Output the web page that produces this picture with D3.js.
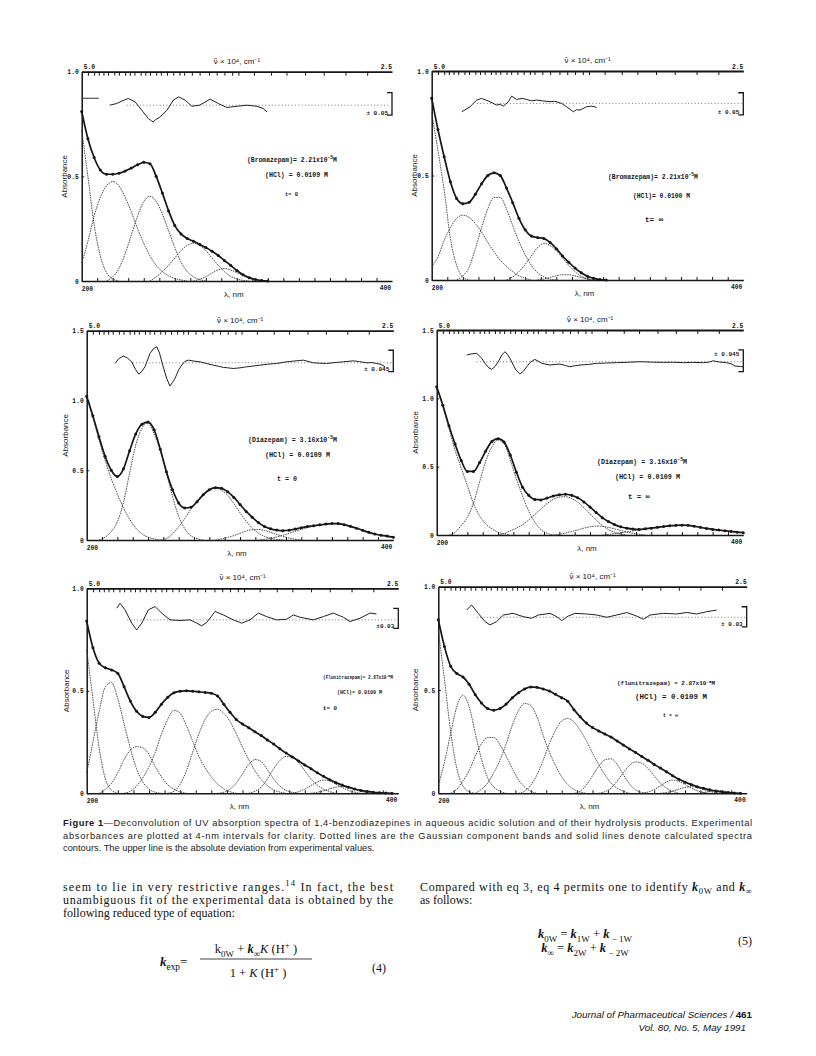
<!DOCTYPE html>
<html><head><meta charset="utf-8">
<script src="https://cdn.jsdelivr.net/npm/d3@7"></script>
<style>body{margin:0;background:#fff}</style>
</head><body>
<svg id="page" width="816" height="1056" xmlns="http://www.w3.org/2000/svg"></svg>
<script>
// ================= DATA =================
const bottomTicks = [210,220,230,240,250,260,270,280,290,300,310,320,330,340,350,360,370,380,390];
const topTicks = [204,208,211,214,217,221,224,228,231,234,238,241,244,248,251,255,259,263,266,271,276,282,287,292,297,301,311,322,332,344,356,370,384];
const topTickLabels = ["5.0","2.5"];
const bottomTickLabels = ["200","400"];
const yTicks10 = [0,0.5,1.0];
const yTicks15 = [0,0.5,1.0,1.5];
const expStart = 200, expStep = 4;

// Panel 1: Bromazepam, t = 0
const bro0Exp = [0.81,0.68,0.59,0.53,0.51,0.51,0.515,0.525,0.54,0.555,0.567,0.56,0.50,0.42,0.335,0.265,0.225,0.203,0.19,0.175,0.16,0.142,0.122,0.098,0.075,0.05,0.03,0.016,0.007,0.002,0];
const bro0B1 = [[200,0.72],[204,0.50],[208,0.27],[212,0.12],[216,0.04],[220,0.01],[224,0]];
const bro0B2 = [[200,0.085],[204,0.19],[208,0.31],[212,0.40],[216,0.455],[220,0.475],[224,0.455],[228,0.40],[232,0.33],[236,0.25],[240,0.18],[244,0.12],[248,0.075],[252,0.045],[256,0.025],[260,0.012],[264,0.005],[268,0]];
const bro0B3 = [[216,0],[220,0.02],[224,0.06],[228,0.13],[232,0.22],[236,0.31],[240,0.38],[244,0.405],[248,0.38],[252,0.32],[256,0.24],[260,0.16],[264,0.09],[268,0.045],[272,0.02],[276,0.007],[280,0]];
const bro0B4 = [[244,0],[248,0.02],[252,0.045],[256,0.075],[260,0.11],[264,0.145],[268,0.17],[272,0.18],[276,0.17],[280,0.145],[284,0.11],[288,0.075],[292,0.045],[296,0.022],[300,0.01],[304,0.003],[308,0]];
const bro0B5 = [[272,0],[276,0.008],[280,0.02],[284,0.038],[288,0.053],[292,0.06],[296,0.053],[300,0.04],[304,0.025],[308,0.013],[312,0.005],[316,0]];
const bro0Dev = [[218,0],[222.6,0.008],[226,0.02],[230,0.032],[234.4,0.016],[238.7,-0.024],[243,-0.064],[245,-0.075],[246,-0.08],[247.5,-0.07],[250.5,-0.056],[255,-0.024],[259,0.024],[262.4,0.04],[266.7,0.024],[271,-0.005],[276,0],[282.8,0.029],[288,0.008],[293.5,-0.011],[300,-0.005],[306.5,0],[313,-0.005],[317,-0.016],[319.4,-0.032]];

// Panel 2: Bromazepam, t = infinity
const broInfExp = [0.87,0.72,0.59,0.47,0.39,0.365,0.372,0.41,0.46,0.50,0.513,0.50,0.44,0.37,0.295,0.24,0.21,0.203,0.198,0.18,0.15,0.115,0.085,0.057,0.035,0.018,0.008,0.002,0];
const broInfB1 = [[200,0.80],[204,0.62],[208,0.43],[212,0.20],[216,0.07],[220,0.015],[224,0]];
const broInfB2 = [[200,0.064],[204,0.11],[208,0.19],[212,0.25],[216,0.295],[220,0.31],[224,0.30],[228,0.27],[232,0.23],[236,0.18],[240,0.135],[244,0.095],[248,0.065],[252,0.04],[256,0.02],[260,0.008],[264,0]];
const broInfB3 = [[216,0],[220,0.02],[224,0.06],[228,0.15],[232,0.25],[236,0.34],[240,0.395],[244,0.395],[248,0.34],[252,0.26],[256,0.185],[260,0.12],[264,0.07],[268,0.035],[272,0.015],[276,0.004],[280,0]];
const broInfB4 = [[248,0],[252,0.015],[256,0.04],[260,0.075],[264,0.115],[268,0.155],[272,0.175],[276,0.165],[280,0.14],[284,0.105],[288,0.07],[292,0.04],[296,0.018],[300,0.006],[304,0]];
const broInfB5 = [[268,0],[272,0.005],[276,0.012],[280,0.02],[284,0.025],[288,0.025],[292,0.02],[296,0.012],[300,0.005],[304,0]];
const broInfDev = [[219.3,-0.04],[222,-0.028],[224.6,-0.016],[228.9,0.016],[232,0.024],[237.4,0.008],[241.7,-0.008],[244,-0.004],[246,-0.013],[249.2,0.008],[251.3,0.035],[254.5,0.019],[258,0.024],[261,0.019],[264,0.012],[267.4,0.016],[271,0.012],[275.9,0.008],[279,0.01],[283.4,0],[286.6,-0.016],[290.9,-0.04],[293,-0.03],[295.2,-0.032],[299.5,-0.016],[302.7,-0.013],[305.9,-0.019]];

// Panel 3: Diazepam, t = 0
const dia0Exp = [1.03,0.89,0.74,0.60,0.50,0.455,0.51,0.64,0.76,0.83,0.845,0.79,0.65,0.49,0.36,0.265,0.23,0.235,0.275,0.325,0.36,0.375,0.37,0.345,0.305,0.255,0.205,0.163,0.125,0.097,0.08,0.071,0.067,0.07,0.078,0.088,0.096,0.102,0.109,0.114,0.118,0.118,0.11,0.098,0.084,0.069,0.055,0.043,0.034,0.028,0.02];
const dia0B1 = [[200,1.02],[204,0.88],[208,0.72],[212,0.57],[216,0.44],[220,0.33],[224,0.23],[228,0.15],[232,0.085],[236,0.045],[240,0.02],[244,0.008],[248,0]];
const dia0B2 = [[208,0],[212,0.02],[216,0.06],[220,0.13],[224,0.27],[228,0.48],[232,0.68],[236,0.80],[240,0.84],[244,0.76],[248,0.64],[252,0.48],[256,0.31],[260,0.17],[264,0.08],[268,0.03],[272,0.01],[276,0]];
const dia0B3 = [[248,0],[252,0.01],[256,0.045],[260,0.095],[264,0.155],[268,0.22],[272,0.275],[276,0.32],[280,0.355],[284,0.372],[288,0.355],[292,0.32],[296,0.26],[300,0.195],[304,0.135],[308,0.085],[312,0.05],[316,0.026],[320,0.012],[324,0.004],[328,0]];
const dia0B4 = [[284,0],[288,0.008],[292,0.018],[296,0.032],[300,0.048],[304,0.064],[308,0.074],[312,0.075],[316,0.068],[320,0.055],[324,0.04],[328,0.026],[332,0.014],[336,0.006],[340,0]];
const dia0B5 = [[312,0],[316,0.005],[320,0.012],[324,0.022],[328,0.034],[332,0.048],[336,0.062],[340,0.076],[344,0.088],[348,0.099],[352,0.107],[356,0.113],[360,0.116],[364,0.116],[368,0.11],[372,0.1],[376,0.086],[380,0.07],[384,0.056],[388,0.043],[392,0.033],[396,0.025],[400,0.019]];
const dia0Dev = [[218.5,-0.005],[221,0.03],[223.9,0.048],[226.5,0.035],[229.3,0.007],[232,-0.05],[234,-0.081],[236,-0.06],[238,-0.029],[241.3,0.067],[243.5,0.1],[245.7,0.115],[247.5,0.07],[249,0.007],[251,-0.07],[252.2,-0.112],[254.3,-0.167],[256,-0.14],[257.6,-0.112],[260,-0.05],[262,-0.017],[264,0.01],[266.3,0.019],[270,0.012],[273.9,0.007],[278,-0.005],[282.6,-0.017],[286,-0.025],[289.1,-0.033],[292,-0.036],[295.6,-0.041],[300,-0.036],[304.3,-0.029],[308,-0.024],[313,-0.017],[318,-0.01],[323.9,-0.005],[329,0.005],[334.8,0.012],[341.3,0.019],[347.8,0],[352,-0.003],[356.5,-0.005],[362,0.002],[367.4,0.007],[373.9,0.014],[378,0.008],[382.6,0],[386,0.002],[389.1,-0.005],[392,-0.012],[394.6,-0.029]];

// Panel 4: Diazepam, t = infinity
const diaInfExp = [1.085,0.95,0.80,0.665,0.545,0.465,0.465,0.53,0.615,0.685,0.705,0.68,0.585,0.46,0.35,0.29,0.26,0.257,0.27,0.285,0.294,0.298,0.29,0.272,0.242,0.205,0.165,0.127,0.098,0.076,0.06,0.05,0.043,0.041,0.045,0.05,0.056,0.062,0.067,0.071,0.072,0.071,0.064,0.056,0.048,0.041,0.036,0.031,0.026,0.021,0.017];
const diaInfB1 = [[200,1.08],[204,0.94],[208,0.78],[212,0.62],[216,0.49],[220,0.36],[224,0.23],[228,0.14],[232,0.08],[236,0.045],[240,0.02],[244,0.008],[248,0]];
const diaInfB2 = [[208,0],[212,0.02],[216,0.07],[220,0.13],[224,0.235],[228,0.39],[232,0.54],[236,0.645],[240,0.695],[244,0.665],[248,0.55],[252,0.41],[256,0.285],[260,0.175],[264,0.095],[268,0.04],[272,0.012],[276,0]];
const diaInfB3 = [[240,0],[244,0.01],[248,0.03],[252,0.05],[256,0.075],[260,0.11],[264,0.15],[268,0.19],[272,0.23],[276,0.26],[280,0.278],[284,0.28],[288,0.268],[292,0.24],[296,0.2],[300,0.155],[304,0.11],[308,0.07],[312,0.04],[316,0.02],[320,0.008],[324,0]];
const diaInfB4 = [[276,0],[280,0.005],[284,0.015],[288,0.025],[292,0.037],[296,0.05],[300,0.06],[304,0.065],[308,0.063],[312,0.056],[316,0.045],[320,0.033],[324,0.022],[328,0.012],[332,0.005],[336,0]];
const diaInfB5 = [[308,0],[312,0.004],[316,0.01],[320,0.016],[324,0.023],[328,0.03],[332,0.037],[336,0.044],[340,0.05],[344,0.056],[348,0.062],[352,0.066],[356,0.07],[360,0.071],[364,0.07],[368,0.064],[372,0.056],[376,0.048],[380,0.041],[384,0.035],[388,0.03],[392,0.025],[396,0.021],[400,0.017]];
const diaInfDev = [[219.6,0.049],[223,0.058],[226.1,0.061],[229,0.03],[231.5,-0.012],[234,-0.045],[235.9,-0.056],[238,-0.035],[240.2,0],[242.5,0.05],[244.6,0.073],[246,0.055],[247.8,0.024],[250,-0.025],[251.7,-0.061],[254.3,-0.09],[256.5,-0.07],[258.7,-0.037],[261,-0.005],[264,0.017],[266,0.005],[268.5,-0.012],[273.9,-0.024],[280.4,-0.017],[284,-0.028],[286.9,-0.037],[290,-0.03],[293.5,-0.024],[299,-0.02],[304.3,-0.012],[310,-0.01],[317.4,-0.007],[325,-0.004],[332.6,0],[340,-0.003],[347.8,-0.005],[354,-0.004],[360.9,-0.007],[367,-0.005],[373.9,-0.007],[378,-0.002],[380.4,0.007],[384,-0.002],[389.1,-0.007],[392,-0.015],[394.6,-0.032],[398,-0.035],[400,-0.037]];

// Panel 5: Flunitrazepam, t = 0
const flu0Exp = [0.84,0.71,0.635,0.612,0.602,0.585,0.52,0.45,0.40,0.375,0.37,0.395,0.435,0.468,0.49,0.498,0.5,0.498,0.495,0.492,0.488,0.475,0.435,0.395,0.36,0.338,0.32,0.30,0.282,0.26,0.24,0.217,0.196,0.177,0.158,0.138,0.12,0.10,0.083,0.066,0.052,0.04,0.03,0.021,0.014,0.009,0.005,0.003,0.001,0];
const flu0B1 = [[200,0.70],[204,0.46],[208,0.22],[212,0.07],[216,0.015],[220,0]];
const flu0B2 = [[200,0.10],[204,0.25],[208,0.40],[212,0.52],[216,0.54],[220,0.46],[224,0.34],[228,0.22],[232,0.12],[236,0.055],[240,0.02],[244,0.005],[248,0]];
const flu0B3 = [[208,0],[212,0.02],[216,0.05],[220,0.10],[224,0.165],[228,0.21],[232,0.228],[236,0.222],[240,0.19],[244,0.13],[248,0.08],[252,0.042],[256,0.02],[260,0.007],[264,0]];
const flu0B4 = [[224,0],[228,0.01],[232,0.035],[236,0.075],[240,0.13],[244,0.2],[248,0.29],[252,0.36],[256,0.405],[260,0.39],[264,0.33],[268,0.255],[272,0.18],[276,0.125],[280,0.08],[284,0.045],[288,0.022],[292,0.008],[296,0]];
const flu0B5 = [[252,0],[256,0.01],[260,0.045],[264,0.11],[268,0.2],[272,0.29],[276,0.36],[280,0.40],[284,0.41],[288,0.39],[292,0.35],[296,0.29],[300,0.225],[304,0.165],[308,0.11],[312,0.068],[316,0.037],[320,0.017],[324,0.006],[328,0]];
const flu0B6 = [[284,0],[288,0.005],[292,0.02],[296,0.05],[300,0.095],[304,0.14],[308,0.165],[312,0.155],[316,0.115],[320,0.07],[324,0.035],[328,0.014],[332,0.004],[336,0]];
const flu0B7 = [[304,0],[308,0.01],[312,0.03],[316,0.07],[320,0.12],[324,0.16],[328,0.18],[332,0.175],[336,0.15],[340,0.11],[344,0.07],[348,0.04],[352,0.02],[356,0.008],[360,0]];
const flu0B8 = [[332,0],[336,0.008],[340,0.02],[344,0.038],[348,0.055],[352,0.065],[356,0.06],[360,0.045],[364,0.028],[368,0.014],[372,0.005],[376,0]];
const flu0B9 = [[344,0],[348,0.005],[352,0.012],[356,0.022],[360,0.03],[364,0.033],[368,0.028],[372,0.018],[376,0.009],[380,0.003],[384,0]];
const flu0Dev = [[219.3,0.057],[221.4,0.081],[224.6,0.049],[228.9,-0.016],[232.1,-0.049],[235.3,-0.016],[239.6,0.049],[243.9,0.065],[248.1,0.033],[253.5,0],[259.9,-0.003],[266.3,0],[270.6,-0.016],[273.8,-0.029],[277,-0.013],[282.4,0.041],[287.7,0.024],[294.1,0],[299.5,-0.016],[304.8,0],[310.2,0.033],[315.5,0.016],[321.9,0],[328.3,0.003],[332.6,0.024],[336.9,0.013],[345.5,0],[351.9,0.016],[358.3,0.033],[364.7,0.013],[369,-0.008],[375.4,0.008],[381.8,0.033],[386,0.029]];

// Panel 6: Flunitrazepam, t = infinity
const fluInfExp = [0.84,0.71,0.615,0.58,0.563,0.528,0.477,0.437,0.41,0.402,0.41,0.432,0.462,0.487,0.505,0.515,0.513,0.505,0.495,0.479,0.463,0.445,0.405,0.37,0.34,0.318,0.302,0.287,0.272,0.253,0.234,0.215,0.197,0.178,0.16,0.14,0.122,0.104,0.085,0.068,0.054,0.042,0.032,0.024,0.017,0.011,0.007,0.004,0.001,0];
const fluInfB1 = [[200,0.79],[204,0.55],[208,0.30],[212,0.12],[216,0.035],[220,0.008],[224,0]];
const fluInfB2 = [[200,0.04],[204,0.15],[208,0.29],[212,0.42],[216,0.475],[220,0.42],[224,0.29],[228,0.165],[232,0.075],[236,0.03],[240,0.01],[244,0]];
const fluInfB3 = [[208,0],[212,0.02],[216,0.06],[220,0.11],[224,0.18],[228,0.24],[232,0.27],[236,0.27],[240,0.235],[244,0.18],[248,0.12],[252,0.065],[256,0.03],[260,0.01],[264,0]];
const fluInfB4 = [[224,0],[228,0.02],[232,0.05],[236,0.1],[240,0.16],[244,0.24],[248,0.33],[252,0.4],[256,0.435],[260,0.425],[264,0.37],[268,0.28],[272,0.2],[276,0.135],[280,0.08],[284,0.042],[288,0.018],[292,0.006],[296,0]];
const fluInfB5 = [[252,0],[256,0.01],[260,0.04],[264,0.09],[268,0.16],[272,0.24],[276,0.305],[280,0.35],[284,0.362],[288,0.345],[292,0.305],[296,0.255],[300,0.195],[304,0.14],[308,0.09],[312,0.05],[316,0.025],[320,0.01],[324,0]];
const fluInfB6 = [[288,0],[292,0.01],[296,0.04],[300,0.085],[304,0.13],[308,0.162],[312,0.167],[316,0.14],[320,0.09],[324,0.045],[328,0.017],[332,0.004],[336,0]];
const fluInfB7 = [[304,0],[308,0.008],[312,0.025],[316,0.06],[320,0.1],[324,0.135],[328,0.152],[332,0.145],[336,0.12],[340,0.085],[344,0.05],[348,0.025],[352,0.01],[356,0]];
const fluInfB8 = [[332,0],[336,0.006],[340,0.018],[344,0.035],[348,0.055],[352,0.064],[356,0.058],[360,0.042],[364,0.025],[368,0.012],[372,0.004],[376,0]];
const fluInfB9 = [[344,0],[348,0.004],[352,0.01],[356,0.02],[360,0.028],[364,0.032],[368,0.027],[372,0.018],[376,0.009],[380,0.003],[384,0]];
const fluInfB10 = [[368,0],[372,0.004],[376,0.01],[380,0.014],[384,0.012],[388,0.006],[392,0]];
const fluInfDev = [[218.4,0.035],[221.6,0.06],[225.9,0.019],[230.3,-0.021],[233.5,-0.037],[237.8,-0.021],[242.2,0.011],[248.6,0.019],[255.1,0.003],[260.5,-0.005],[264.9,0.011],[272.4,0.019],[276.8,0.003],[280,-0.016],[284.3,0.006],[288.6,0.019],[296.2,0.016],[302.7,0.011],[309.2,0],[315.7,0.011],[322.2,0.023],[328.6,0.006],[333,-0.01],[337.3,0.011],[346,0.019],[354.6,0.016],[361.1,0.023],[367.6,0.016],[374.1,0.027],[380.5,0.035]];

// ================= LAYOUT =================
const panels = [
  {frame:[81.7,392,71.7,281], yMax:1.0, yTicks:yTicks10, ylabDx:-15, exp:bro0Exp, bands:[bro0B1,bro0B2,bro0B3,bro0B4,bro0B5], dev:bro0Dev, devBase:0.84, devFrom:229, bracket:[0.793,0.90], brLabel:"\u00B1 0.05", brLabelAtTop:false, refDash:0.873,
   info:[{x:247,y:162,w:90,parts:[["(Bromazepam)= 2.21x10",""],["-5","sup"],["M",""]]},{x:265,y:177,w:63,parts:[["(HCl) = 0.0109 M",""]]},{x:285,y:196,w:13,parts:[["t= 0",""]]}]},
  {frame:[431.7,743.3,71,280], yMax:1.0, yTicks:yTicks10, ylabDx:-15, exp:broInfExp, bands:[broInfB1,broInfB2,broInfB3,broInfB4,broInfB5], dev:broInfDev, devBase:0.845, devFrom:229, bracket:[0.79,0.896], brLabel:"\u00B1 0.05", brLabelAtTop:false,
   info:[{x:608,y:179,w:90,parts:[["(Bromazepam)= 2.21x10",""],["-5","sup"],["M",""]]},{x:633,y:198,w:57,parts:[["(HCl)= 0.0100 M",""]]},{x:645,y:222,w:20,parts:[["t= \u221E",""]]}]},
  {frame:[86.7,393.3,330.7,540], yMax:1.5, yTicks:yTicks15, ylabDx:-19, exp:dia0Exp, bands:[dia0B1,dia0B2,dia0B3,dia0B4,dia0B5], dev:dia0Dev, devBase:1.27, devFrom:230, bracket:[1.206,1.36], brLabel:"\u00B1 0.045", brLabelAtTop:false,
   info:[{x:248,y:442,w:89,parts:[["(Diazepam) = 3.16x10",""],["-5","sup"],["M",""]]},{x:265,y:457,w:65,parts:[["(HCl) = 0.0109 M",""]]},{x:277,y:481,w:20,parts:[["t = 0",""]]}]},
  {frame:[436.7,743.3,330,535], yMax:1.5, yTicks:yTicks15, ylabDx:-19, exp:diaInfExp, bands:[diaInfB1,diaInfB2,diaInfB3,diaInfB4,diaInfB5], dev:diaInfDev, devBase:1.268, devFrom:226, bracket:[1.195,1.354], brLabel:"\u00B1 0.045", brLabelAtTop:true,
   info:[{x:597,y:464,w:90,parts:[["(Diazepam) = 3.16x10",""],["-5","sup"],["M",""]]},{x:615,y:479,w:65,parts:[["(HCl) = 0.0109 M",""]]},{x:628,y:499,w:22,parts:[["t = \u221E",""]]}]},
  {frame:[86.7,398.3,588.3,793.3], yMax:1.0, yTicks:yTicks10, ylabDx:-18, exp:flu0Exp, bands:[flu0B1,flu0B2,flu0B3,flu0B4,flu0B5,flu0B6,flu0B7,flu0B8,flu0B9], dev:flu0Dev, devBase:0.846, devFrom:226, bracket:[0.805,0.902], brLabel:"\u00B10.03", brLabelAtTop:false,
   info:[{x:323,y:679,w:70,parts:[["(Flunitrazepam)= 2.87x10",""],["-5","sup"],["M",""]]},{x:337,y:694,w:45,parts:[["(HCl)= 0.0109 M",""]]},{x:323,y:710,w:14,parts:[["t= 0",""]]}]},
  {frame:[438.3,746.7,586.7,793.3], yMax:1.0, yTicks:yTicks10, ylabDx:-20, exp:fluInfExp, bands:[fluInfB1,fluInfB2,fluInfB3,fluInfB4,fluInfB5,fluInfB6,fluInfB7,fluInfB8,fluInfB9,fluInfB10], dev:fluInfDev, devBase:0.852, devFrom:225, bracket:[0.806,0.903], brLabel:"\u00B1 0.03", brLabelAtTop:false,
   info:[{x:617,y:685,w:98,parts:[["(flunitrazepam) = 2.87x10",""],["-5","sup"],["M",""]]},{x:635,y:699,w:77,parts:[["(HCl) = 0.0109 M",""]]},{x:663,y:717,w:15,parts:[["t = \u221E",""]]}]}
];

const INK = "#161616";
const PLOT_FONT = "'Liberation Mono', 'DejaVu Sans Mono', monospace";
const SANS = "'Liberation Sans', Arial, sans-serif";
const SERIF = "'Liberation Serif', 'Times New Roman', serif";

const svg = d3.select("#page");
svg.append("rect").attr("width",816).attr("height",1056).attr("fill","#fff");

function rich(textSel, parts, size) {
  let shift = 0;
  parts.forEach(([t, s]) => {
    const tok = s.split(" ");
    let target = 0, fs = size;
    if (tok.includes("sup")) { target = -size*0.42; fs = size*0.72; }
    if (tok.includes("sub")) { target = size*0.28; fs = size*0.72; }
    const ts = textSel.append("tspan").attr("dy", (target - shift).toFixed(2)).attr("font-size", fs).text(t);
    shift = target;
    if (tok.includes("it")) ts.attr("font-style","italic");
    if (tok.includes("bd")) ts.attr("font-weight","bold");
  });
}

function drawPanel(p) {
  const [x0,x1,yT,yB] = p.frame;
  const x = d3.scaleLinear().domain([200,400]).range([x0,x1]);
  const y = d3.scaleLinear().domain([0,p.yMax]).range([yB,yT]);
  const g = svg.append("g");

  // top axis (wavenumber marks)
  const ta = g.append("g").attr("transform",`translate(0,${yT})`)
    .call(d3.axisTop(x).tickValues(topTicks).tickSizeInner(-4).tickSizeOuter(0).tickFormat(""));
  ta.select(".domain").attr("stroke",INK).attr("stroke-width",1.8);
  ta.selectAll(".tick line").attr("stroke",INK).attr("stroke-width",1);

  // bottom axis
  const ba = g.append("g").attr("transform",`translate(0,${yB})`)
    .call(d3.axisBottom(x).tickValues(bottomTicks).tickSizeInner(-3).tickSizeOuter(0).tickFormat(""));
  ba.select(".domain").attr("stroke",INK).attr("stroke-width",1.5);
  ba.selectAll(".tick line").attr("stroke",INK).attr("stroke-width",1);

  // left axis
  const la = g.append("g").attr("transform",`translate(${x0},0)`)
    .call(d3.axisLeft(y).tickValues(p.yTicks).tickSizeInner(-2.5).tickSizeOuter(0).tickPadding(3)
      .tickFormat(d => d === 0 ? "0" : d3.format(".1f")(d)));
  la.select(".domain").attr("stroke",INK).attr("stroke-width",1.5);
  la.selectAll(".tick line").attr("stroke",INK);
  la.selectAll(".tick text").attr("font-family",PLOT_FONT).attr("font-weight","bold").attr("font-size",6.3).attr("fill",INK);

  // end labels
  const lab = (t, xx, yy, anchor) => g.append("text").attr("x",xx).attr("y",yy).attr("text-anchor",anchor)
    .attr("font-family",PLOT_FONT).attr("font-weight","bold").attr("font-size",6.3).attr("fill",INK).text(t);
  lab(topTickLabels[0], x(200)+2, yT-2.5, "start");
  lab(topTickLabels[1], x(400), yT-2.5, "end");
  lab(bottomTickLabels[0], x(200), yB+9.5, "start");
  lab(bottomTickLabels[1], x(400)-1, yB+8.5, "end");

  // axis titles
  const tt = g.append("text").attr("x",(x0+x1)/2).attr("y",yT-8).attr("text-anchor","middle")
    .attr("font-family",SANS).attr("font-size",8).attr("fill",INK);
  tt.append("tspan").attr("font-family","'DejaVu Sans', sans-serif").attr("font-size",7.6).text("\u03BD\u0304");
  tt.append("tspan").text(" \u00D7 10\u2074, cm\u207B\u00B9");
  g.append("text").attr("x",(x0+x1)/2 - 3).attr("y",yB+15.5).attr("text-anchor","middle")
    .attr("font-family",SANS).attr("font-size",8).attr("fill",INK).text("\u03BB, nm");
  g.append("text").attr("transform",`translate(${x0+p.ylabDx},${(yT+yB)/2}) rotate(-90)`).attr("text-anchor","middle")
    .attr("font-family",SANS).attr("font-size",8).attr("fill",INK).text("Absorbance");

  // Gaussian component bands (dotted)
  const bandLine = d3.line().x(d => x(d[0])).y(d => y(d[1])).curve(d3.curveMonotoneX);
  p.bands.forEach(b => {
    g.append("path").attr("d", bandLine(b)).attr("fill","none")
      .attr("stroke","#333").attr("stroke-width",0.85).attr("stroke-dasharray","1.6,0.9");
  });

  // calculated contour + experimental points
  const pts = p.exp.map((v,i) => [expStart + i*expStep, v]);
  g.append("path").attr("d", bandLine(pts)).attr("fill","none").attr("stroke",INK).attr("stroke-width",1.7);
  g.selectAll(null).data(pts).enter().append("circle")
    .attr("cx", d => x(d[0])).attr("cy", d => y(d[1])).attr("r",1.5).attr("fill",INK);

  // deviation trace
  g.append("line").attr("x1",x(p.devFrom)).attr("x2",x(399)).attr("y1",y(p.devBase)).attr("y2",y(p.devBase))
    .attr("stroke","#555").attr("stroke-width",0.8).attr("stroke-dasharray","1,2.3");
  const devLine = d3.line().x(d => x(d[0])).y(d => y(p.devBase + d[1])).curve(d3.curveLinear);
  g.append("path").attr("d", devLine(p.dev)).attr("fill","none").attr("stroke","#222").attr("stroke-width",1);
  if (p.refDash !== undefined) {
    g.append("line").attr("x1",x(200)).attr("x2",x(211)).attr("y1",y(p.refDash)).attr("y2",y(p.refDash))
      .attr("stroke","#333").attr("stroke-width",1);
  }
  // bracket
  const [blo, bhi] = p.bracket;
  g.append("path").attr("d",`M${x1-5},${y(bhi)}H${x1}V${y(blo)}H${x1-5}`).attr("fill","none")
    .attr("stroke",INK).attr("stroke-width",1.3);
  g.append("text").attr("x",x1-4).attr("y", p.brLabelAtTop ? y(bhi)+6 : y(blo)-0.5).attr("text-anchor","end")
    .attr("font-family",PLOT_FONT).attr("font-weight","bold").attr("font-size",6).attr("fill",INK).text(p.brLabel);

  // annotation: font size fitted so the line spans the measured width
  p.info.forEach(inf => {
    const base = 6.2;
    const t = g.append("text").attr("x",inf.x).attr("y",inf.y).attr("font-family",PLOT_FONT)
      .attr("font-weight","bold").attr("font-size",base).attr("fill",INK);
    rich(t, inf.parts, base);
    const L = t.node().getComputedTextLength();
    const f = L > 0 ? Math.min(7.5, base * inf.w / L) : base;
    t.selectAll("tspan").remove();
    t.attr("font-size", f);
    rich(t, inf.parts, f);
  });
}
panels.forEach(drawPanel);

// ================= CAPTION & BODY TEXT =================
const cap = svg.append("g").attr("font-family",SANS).attr("font-size",9.3).attr("fill","#1a1a1a");
const c1 = cap.append("text").attr("x",63).attr("y",826).attr("textLength",689).attr("lengthAdjust","spacing");
c1.append("tspan").attr("font-weight","bold").text("Figure 1");
c1.append("tspan").text("\u2014Deconvolution of UV absorption spectra of 1,4-benzodiazepines in aqueous acidic solution and of their hydrolysis products. Experimental");
cap.append("text").attr("x",63).attr("y",838.5).attr("textLength",689).attr("lengthAdjust","spacing")
  .text("absorbances are plotted at 4-nm intervals for clarity. Dotted lines are the Gaussian component bands and solid lines denote calculated spectra");
cap.append("text").attr("x",63).attr("y",851).text("contours. The upper line is the absolute deviation from experimental values.");

const body = svg.append("g").attr("font-family",SERIF).attr("font-size",12).attr("fill","#111");
const l1 = body.append("text").attr("x",63).attr("y",891).attr("textLength",330).attr("lengthAdjust","spacing");
rich(l1, [["seem to lie in very restrictive ranges.",""],["14","sup"],[" In fact, the best",""]], 12);
body.append("text").attr("x",63).attr("y",904).attr("textLength",330).attr("lengthAdjust","spacing")
  .text("unambiguous fit of the experimental data is obtained by the");
body.append("text").attr("x",63).attr("y",917).text("following reduced type of equation:");

const r1 = body.append("text").attr("x",420).attr("y",891).attr("textLength",332).attr("lengthAdjust","spacing");
rich(r1, [["Compared with eq 3, eq 4 permits one to identify ",""],["k","it bd"],["0W","sub"],[" and ",""],["k","it bd"],["\u221E","sub"]], 12);
body.append("text").attr("x",420).attr("y",904).text("as follows:");

// equation (4)
const ke = body.append("text").attr("x",160).attr("y",966);
rich(ke, [["k","it bd"],["exp","sub"],["=",""]], 13);
const num = body.append("text").attr("x",256).attr("y",953).attr("text-anchor","middle");
rich(num, [["k",""],["0W","sub"],[" + ",""],["k","it bd"],["\u221E","sub"],["K","it"],[" (H",""],["+","sup"],[" )",""]], 12.5);
body.append("line").attr("x1",200).attr("x2",312).attr("y1",959).attr("y2",959).attr("stroke","#111").attr("stroke-width",0.8);
const den = body.append("text").attr("x",258).attr("y",977).attr("text-anchor","middle");
rich(den, [["1 + ",""],["K","it"],[" (H",""],["+","sup"],[" )",""]], 12.5);
body.append("text").attr("x",372).attr("y",972).text("(4)");

// equation (5)
const e51 = body.append("text").attr("x",585).attr("y",938).attr("text-anchor","middle");
rich(e51, [["k","it bd"],["0W","sub"],[" = ",""],["k","it bd"],["1W","sub"],[" + ",""],["k","it bd"],[" \u2212 1W","sub"]], 12.5);
const e52 = body.append("text").attr("x",585).attr("y",952).attr("text-anchor","middle");
rich(e52, [["k","it bd"],["\u221E","sub"],[" = ",""],["k","it bd"],["2W","sub"],[" + ",""],["k","it bd"],[" \u2212 2W","sub"]], 12.5);
body.append("text").attr("x",752).attr("y",945).attr("text-anchor","end").text("(5)");

// footer
const f1 = svg.append("text").attr("x",752).attr("y",1018).attr("text-anchor","end")
  .attr("font-family",SANS).attr("font-size",9.8).attr("font-style","italic").attr("fill","#111");
f1.append("tspan").text("Journal of Pharmaceutical Sciences / ");
f1.append("tspan").attr("font-weight","bold").attr("font-style","normal").text("461");
svg.append("text").attr("x",746).attr("y",1031).attr("text-anchor","end")
  .attr("font-family",SANS).attr("font-size",9.8).attr("font-style","italic").attr("fill","#111")
  .text("Vol. 80, No. 5, May 1991");
</script>
</body></html>
